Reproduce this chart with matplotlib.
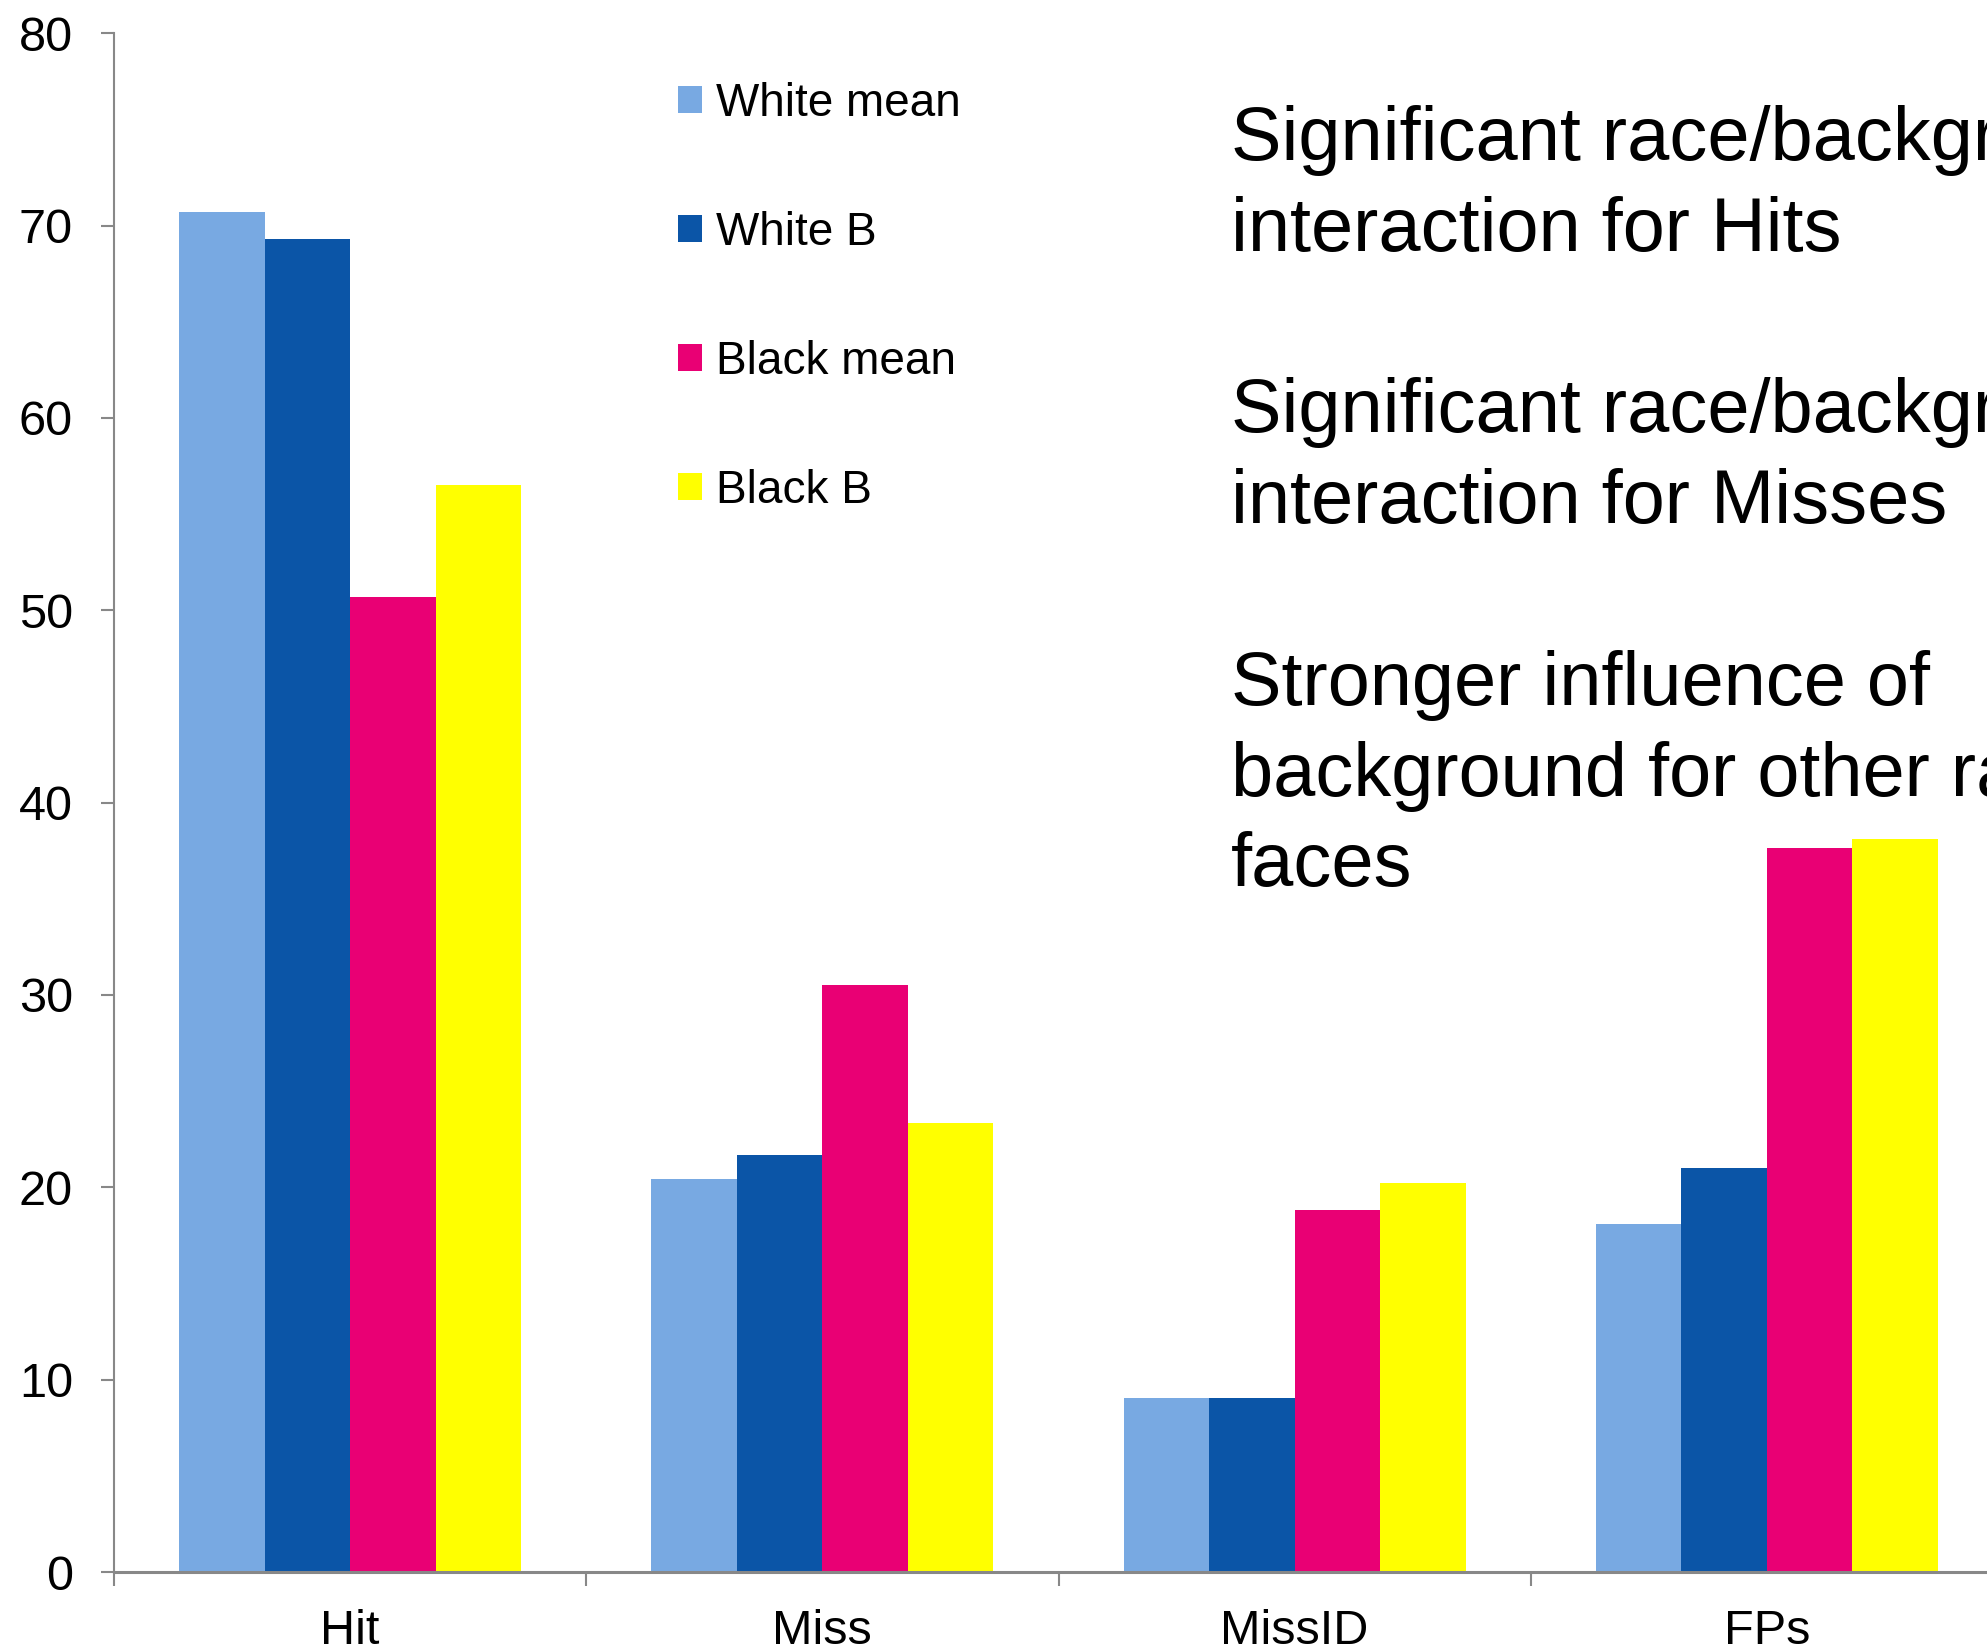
import matplotlib
matplotlib.use("Agg")
import matplotlib.pyplot as plt
import numpy as np

plt.rcParams['font.family'] = ['Liberation Sans', 'DejaVu Sans']

categories = ["Hit", "Miss", "MissID", "FPs"]
series_names = ["White mean", "White B", "Black mean", "Black B"]
white_mean = [70.7, 20.45, 9.05, 18.1]
white_b = [69.3, 21.7, 9.05, 21.0]
black_mean = [50.7, 30.5, 18.8, 37.65]
black_b = [56.5, 23.35, 20.25, 38.1]
series_colors = ["#78A9E2", "#0B55A7", "#E90074", "#FFFF00"]
y_ticks = [0, 10, 20, 30, 40, 50, 60, 70, 80]

notes = [
    "Significant race/background",
    "interaction for Hits",
    "",
    "Significant race/background",
    "interaction for Misses",
    "",
    "Stronger influence of",
    "background for other race",
    "faces",
]

W, H, DPI = 1987, 1646, 100
fig = plt.figure(figsize=(W / DPI, H / DPI), dpi=DPI)
ax = fig.add_axes([114 / W, 1 - 1572 / H, 1889 / W, (1572 - 33.3) / H])

x = np.arange(len(categories))
bw = 0.181
all_series = [white_mean, white_b, black_mean, black_b]
handles = []
for i, (vals, name, col) in enumerate(zip(all_series, series_names, series_colors)):
    h = ax.bar(x + (i - 1.5) * bw, vals, width=bw, color=col, label=name,
               edgecolor="none", linewidth=0)
    handles.append(h)

ax.set_xlim(-0.5, len(categories) - 0.5)
ax.set_ylim(0, 80)
ax.set_yticks(y_ticks)
ax.set_yticklabels([str(v) for v in y_ticks])

# category boundaries as major ticks, names as minor ticks
ax.set_xticks(np.arange(len(categories) + 1) - 0.5)
ax.set_xticklabels([])
ax.set_xticks(x, minor=True)
ax.set_xticklabels(categories, minor=True)

spine_col = "#888888"
for s in ["top", "right"]:
    ax.spines[s].set_visible(False)
ax.spines["left"].set_color(spine_col)
ax.spines["left"].set_linewidth(1.5)
ax.spines["bottom"].set_color(spine_col)
ax.spines["bottom"].set_linewidth(2.2)

ax.tick_params(axis="y", which="major", direction="out", length=9.5, width=1.5,
               color=spine_col, labelsize=35, pad=20)
ax.tick_params(axis="x", which="major", direction="out", length=10, width=1.5,
               color=spine_col)
ax.tick_params(axis="x", which="minor", length=0, labelsize=35, pad=27)

ax.legend(handles=handles, loc="upper left",
          bbox_to_anchor=(678 / W, 1 - 82 / H), bbox_transform=fig.transFigure,
          frameon=False, fontsize=33, handlelength=0.52, handleheight=0.52,
          handletextpad=0.3, labelspacing=1.855, borderpad=0, borderaxespad=0)

# annotation lines, one baseline per line
first_baseline, line_step = 160, 90.8
for k, line in enumerate(notes):
    if line:
        fig.text(1231 / W, 1 - (first_baseline + k * line_step) / H, line,
                 fontsize=54.5, ha="left", va="baseline", color="black")

fig.savefig("out.png", dpi=DPI, facecolor="white")
